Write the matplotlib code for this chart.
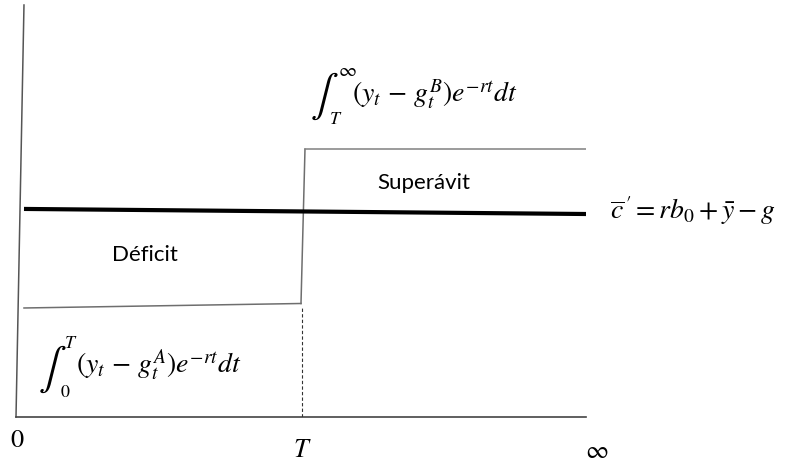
import matplotlib
matplotlib.use("Agg")
import matplotlib.pyplot as plt

plt.rcParams['mathtext.fontset'] = 'stix'

# Schematic data (x: 0 .. T=1 .. "infinity"=2 ; y: 0..1)
axis_left_x = [0.028, 0.0]
axis_left_y = [1.0, 0.0]
axis_bottom_x = [0.0, 2.0]
axis_bottom_y = [0.0, 0.0]

lower_x = [0.028, 1.0]
lower_y = [0.2646, 0.2755]
step_x = [1.0, 1.014]
step_y = [0.2755, 0.650]
upper_x = [1.014, 2.0]
upper_y = [0.650, 0.650]

cbar_x = [0.028, 2.0]
cbar_y = [0.505, 0.4927]

T_x = 1.003
T_top = 0.27

W, H = 786, 462
fig = plt.figure(figsize=(W / 100, H / 100), dpi=100)
ax = fig.add_axes([16 / W, 1 - 417 / H, 570 / W, 412 / H])
ax.set_xlim(0, 2)
ax.set_ylim(0, 1)
ax.axis('off')

ax.plot(axis_left_x, axis_left_y, color='#555555', lw=1.1, clip_on=False)
ax.plot(axis_bottom_x, axis_bottom_y, color='#444444', lw=1.2, clip_on=False)
ax.plot(lower_x, lower_y, color='#6e6e6e', lw=1.1)
ax.plot(step_x, step_y, color='#6e6e6e', lw=1.1)
ax.plot(upper_x, upper_y, color='#808080', lw=1.1)
ax.plot(cbar_x, cbar_y, color='black', lw=3.0, solid_capstyle='butt')
ax.plot([T_x, T_x], [0, T_top], color='#333333', lw=0.8, ls=(0, (3, 2)))


def ptext(x, y, s, **kw):
    """Place text at pixel position (x from left, y from top)."""
    fig.text(x / W, 1 - y / H, s, **kw)


# axis labels
ptext(17, 440, '$0$', fontsize=19, ha='center', va='center')
ptext(302, 450, '$T$', fontsize=19, ha='center', va='center')
ptext(597, 451, r'$\infty$', fontsize=18, ha='center', va='center')

# region labels
ptext(145, 255, 'Déficit', fontsize=16, family='Lato', ha='center', va='center')
ptext(424, 183, 'Superávit', fontsize=16, family='Lato', ha='center', va='center')

bfs = 20
ifs = 30
# lower integral
ptext(52, 369, r'$\int$', fontsize=ifs, ha='center', va='center')
ptext(71, 343, '$T$', fontsize=13, ha='center', va='center')
ptext(65, 392, '$0$', fontsize=13, ha='center', va='center')
ptext(76, 373, r'$(y_t\, -\, g_t^{A})e^{-rt}dt$', fontsize=bfs, ha='left', va='baseline')

# upper integral
ptext(324, 96, r'$\int$', fontsize=ifs, ha='center', va='center')
ptext(347, 71, r'$\infty$', fontsize=14, ha='center', va='center')
ptext(336, 119, '$T$', fontsize=13, ha='center', va='center')
ptext(352, 102, r'$(y_t\, -\, g_t^{B})e^{-rt}dt$', fontsize=bfs, ha='left', va='baseline')

# consumption line label
ptext(610, 219, r"$\overline{c}^{\,\prime} = rb_0 + \bar{y} - g$", fontsize=bfs,
      ha='left', va='baseline')

fig.savefig('out.png', dpi=100)
